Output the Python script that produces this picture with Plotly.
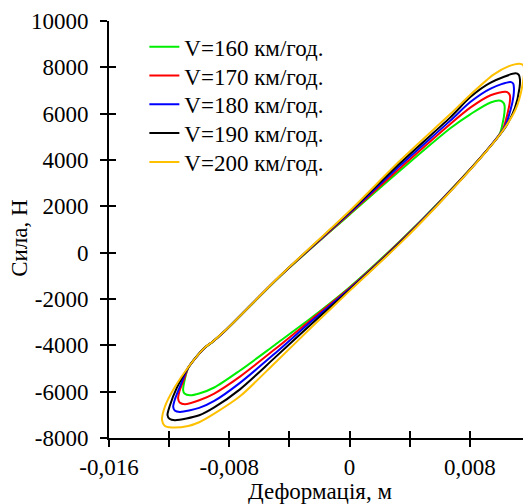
import plotly.graph_objects as go

# deformation (m) and force (N), one closed loop per speed
labels = ["V=160 км/год.", "V=170 км/год.", "V=180 км/год.", "V=190 км/год.", "V=200 км/год."]
colors = ["#00EE00", "#FF0000", "#0000FF", "#000000", "#FFC000"]

x_160 = [0.01005, 0.01025, 0.01031, 0.0103, 0.0102, 0.0100, 0.00905, 0.00627, 0.00338, 0.0, -0.0025,
         -0.00495, -0.00729, -0.0090, -0.0100, -0.01062, -0.01098, -0.01107, -0.0110, -0.01073, -0.00962,
         -0.00917, -0.00829, -0.00462, 0.0, 0.00338, 0.0067, 0.00805, 0.00938, 0.01005]
f_160 = [6557, 6454, 6343, 6050, 5650, 5150, 4365, 2400, 520, -1490, -2790,
         -3973, -5087, -5820, -6080, -6159, -6080, -5944, -5600, -4975, -4098,
         -3884, -3383, -1015, 1640, 3557, 5370, 5983, 6484, 6557]

x_170 = [0.01038, 0.01058, 0.01067, 0.01065, 0.0105, 0.0102, 0.00905, 0.00627, 0.00338, 0.0, -0.0025,
         -0.00495, -0.00729, -0.0090, -0.0100, -0.01095, -0.0113, -0.0114, -0.0113, -0.0110, -0.01073,
         -0.00962, -0.00917, -0.00829, -0.00462, 0.0, 0.00338, 0.0067, 0.00805, 0.00938, 0.01038]
f_170 = [6943, 6880, 6771, 6450, 6000, 5330, 4360, 2385, 490, -1530, -2860,
         -4160, -5350, -6080, -6370, -6544, -6470, -6300, -5950, -5450, -4965,
         -4095, -3881, -3380, -1010, 1680, 3660, 5556, 6270, 6797, 6943]

x_180 = [0.01071, 0.01088, 0.01093, 0.0109, 0.0107, 0.0103, 0.00905, 0.00627, 0.00338, 0.0, -0.0025,
         -0.00495, -0.00729, -0.0090, -0.0100, -0.01129, -0.01163, -0.01173, -0.0116, -0.0112, -0.01073,
         -0.00962, -0.00917, -0.00829, -0.00462, 0.0, 0.00338, 0.0067, 0.00805, 0.00938, 0.01071]
f_180 = [7371, 7300, 7127, 6750, 6150, 5400, 4355, 2370, 460, -1570, -2940,
         -4340, -5620, -6400, -6700, -6874, -6810, -6660, -6300, -5650, -4960,
         -4092, -3878, -3377, -1005, 1720, 3770, 5700, 6514, 7084, 7371]

x_190 = [0.01104, 0.01125, 0.01133, 0.0113, 0.0110, 0.0104, 0.00905, 0.00627, 0.00338, 0.0, -0.0025,
         -0.00495, -0.00729, -0.0090, -0.0100, -0.01162, -0.01198, -0.01211, -0.01195, -0.0115, -0.01073,
         -0.00962, -0.00917, -0.00829, -0.00462, 0.0, 0.00338, 0.0067, 0.00805, 0.00938, 0.01104]
f_190 = [7740, 7680, 7483, 7100, 6250, 5450, 4350, 2355, 435, -1610, -3060,
         -4520, -5900, -6680, -7020, -7230, -7170, -7016, -6600, -5850, -4955,
         -4090, -3876, -3375, -1002, 1760, 3880, 5840, 6729, 7341, 7740]

x_200 = [0.01127, 0.01152, 0.0116, 0.01149, 0.01105, 0.01027, 0.00905, 0.00627, 0.00338, 0.0, -0.0025,
         -0.00495, -0.00729, -0.0090, -0.0100, -0.01073, -0.01184, -0.0123, -0.01247, -0.01229, -0.01162,
         -0.01073, -0.00962, -0.00917, -0.00829, -0.00462, 0.0, 0.00338, 0.0067, 0.00805, 0.0096, 0.0106,
         0.01127]
f_200 = [8156, 8110, 7984, 7200, 6197, 5340, 4341, 2340, 411, -1650, -3200,
         -4750, -6200, -6950, -7320, -7480, -7543, -7470, -7230, -6660, -5803,
         -4946, -4088, -3874, -3373, -1000, 1800, 3986, 5983, 6830, 7697, 8050,
         8156]

x_ticks = [-0.016, -0.012, -0.008, -0.004, 0.0, 0.004, 0.008, 0.012]
x_ticktext = ["-0,016", "", "-0,008", "", "0", "", "0,008", ""]
y_ticks = [-8000, -6000, -4000, -2000, 0, 2000, 4000, 6000, 8000, 10000]
y_ticktext = ["-8000", "-6000", "-4000", "-2000", "0", "2000", "4000", "6000", "8000", "10000"]

xs = [x_160, x_170, x_180, x_190, x_200]
fs = [f_160, f_170, f_180, f_190, f_200]

font = "Liberation Serif, Times New Roman, serif"
legend_names = ["legend", "legend2", "legend3", "legend4", "legend5"]

fig = go.Figure()
for xv, fv, lb, c, lg in zip(xs, fs, labels, colors, legend_names):
    fig.add_trace(go.Scatter(x=xv, y=fv, mode="lines", name=lb, legend=lg,
                             line=dict(color=c, width=2, shape="spline", smoothing=0.8)))

# invisible trace so the overlay axes (inner half of the crossing ticks) get drawn
fig.add_trace(go.Scatter(x=[None], y=[None], xaxis="x2", yaxis="y2", showlegend=False, hoverinfo="skip"))

axis_common = dict(showgrid=False, zeroline=False, linecolor="black", linewidth=2,
                   tickcolor="black", tickwidth=2, ticklen=7)

# page body has an 8px margin, so the figure is drawn 8px smaller and shifted
fig.update_layout(
    width=523, height=496,
    margin=dict(l=101, r=1, t=10, b=66),
    paper_bgcolor="white", plot_bgcolor="white",
    font=dict(family=font, size=23, color="black"),
    xaxis=dict(range=[-0.016, 0.012], tickvals=x_ticks, ticktext=x_ticktext,
               ticks="outside", showline=True, ticklabeloverflow="allow", **axis_common),
    yaxis=dict(range=[-8000, 10000], tickvals=y_ticks, ticktext=y_ticktext,
               ticks="outside", showline=True, ticklabelstandoff=7, ticklabeloverflow="allow",
               **axis_common),
    xaxis2=dict(range=[-0.016, 0.012], tickvals=x_ticks, ticks="inside", showticklabels=False,
                overlaying="x", side="bottom", showline=False, **axis_common),
    yaxis2=dict(range=[-8000, 10000], tickvals=y_ticks, ticks="inside", showticklabels=False,
                overlaying="y", side="left", showline=False, **axis_common),
    showlegend=True,
)

leg_y = [0.938, 0.869, 0.800, 0.731, 0.662]
for lg, yy in zip(legend_names, leg_y):
    fig.update_layout({lg: dict(x=0.084, y=yy, xanchor="left", yanchor="middle",
                                bgcolor="rgba(0,0,0,0)", font=dict(family=font, size=23))})

fig.add_annotation(text="Деформація, м", xref="paper", yref="paper", x=0.5, y=-0.128,
                   xanchor="center", yanchor="middle", showarrow=False, font=dict(size=23))
fig.add_annotation(text="Сила, Н", xref="paper", yref="paper", x=-0.2115, y=0.48,
                   xanchor="center", yanchor="middle", textangle=-90, showarrow=False, font=dict(size=23))

fig.write_html("out.html")
